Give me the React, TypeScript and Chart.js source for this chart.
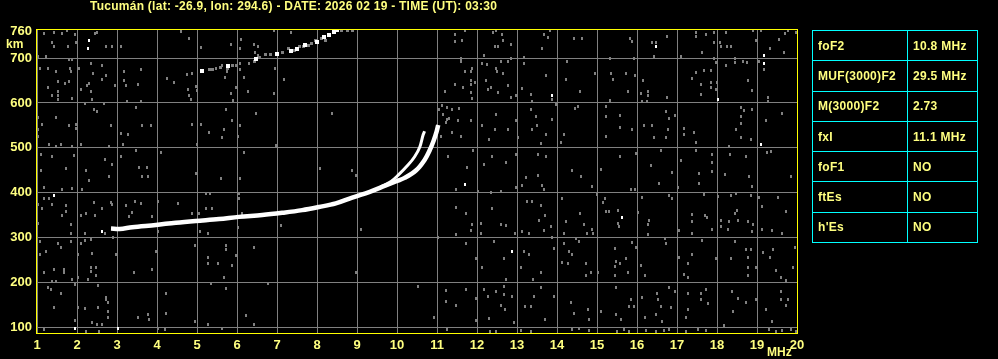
import React, { useEffect, useRef } from "react";
import { Chart, registerables } from "chart.js";

Chart.register(...registerables);

const titleText =
  "Tucumán (lat: -26.9, lon: 294.6) - DATE: 2026 02 19 - TIME (UT): 03:30";

const freqTicks = [1, 2, 3, 4, 5, 6, 7, 8, 9, 10, 11, 12, 13, 14, 15, 16, 17, 18, 19, 20];
const heightTicks = [100, 200, 300, 400, 500, 600, 700, 760];

const paramNames = ["foF2", "MUF(3000)F2", "M(3000)F2", "fxI", "foF1", "ftEs", "h'Es"];
const paramValues = ["10.8 MHz", "29.5 MHz", "2.73", "11.1 MHz", "NO", "NO", "NO"];

// main F2 trace (frequency MHz, virtual height km)
const traceMain: [number, number][] = [
  [2.85, 320], [3.07, 319], [3.38, 323], [3.97, 328], [4.47, 333], [4.97, 337],
  [5.55, 341], [6.05, 346], [6.63, 350], [7.13, 355], [7.63, 361], [8.05, 368],
  [8.47, 376], [8.88, 389], [9.32, 402], [9.69, 415], [10.0, 426], [10.19, 433],
  [10.48, 450], [10.69, 473], [10.82, 495], [10.92, 517], [10.99, 536], [11.03, 551],
];

const traceBranch: [number, number][] = [
  [9.6, 413], [9.85, 425], [10.03, 439], [10.28, 462], [10.44, 480], [10.57, 502],
  [10.65, 528], [10.69, 537],
];

const secondHopWhite: [number, number][] = [
  [5.13, 672], [5.78, 682], [6.47, 699], [7.01, 710], [7.34, 717], [7.49, 721],
  [7.7, 730], [8.01, 737], [8.18, 747], [8.3, 752], [8.43, 758], [8.51, 763],
];

const secondHopGray: [number, number][] = [
  [5.3, 675], [5.38, 675], [5.59, 679], [5.76, 676], [5.88, 684], [6.43, 693],
  [6.55, 702], [6.7, 709], [6.84, 709], [7.13, 712], [7.28, 721], [7.43, 717],
  [7.55, 727], [7.66, 727], [7.78, 728], [7.87, 733], [7.97, 739], [8.12, 743],
  [8.22, 740], [8.62, 761], [8.76, 761], [8.88, 761],
];

const noiseWhite: [number, number][] = [
  [2.3, 740], [2.28, 722], [13.88, 616], [16.48, 725], [19.18, 707], [19.18, 688],
  [18.03, 607], [19.09, 508], [1.43, 393], [2.63, 313], [1.95, 98], [3.03, 98],
  [11.7, 419], [15.63, 344], [12.88, 269],
];

const noiseGray: [number, number][] = [
  [1.18, 755], [1.43, 757], [1.63, 755], [1.76, 762], [1.95, 753], [1.37, 736], [1.43, 727],
  [1.78, 727], [2.45, 755], [2.51, 758], [2.72, 725], [2.88, 727], [3.1, 727], [1.98, 736],
  [1.03, 704], [1.23, 704], [1.8, 698], [1.88, 698], [1.08, 678], [1.28, 678], [1.48, 670],
  [1.83, 678], [1.84, 670], [2.05, 678], [2.34, 688], [2.4, 666], [2.63, 684], [2.73, 661],
  [2.63, 652], [2.95, 639], [3.18, 670], [3.18, 650], [3.23, 639], [3.59, 675], [3.53, 642],
  [4.26, 655], [4.43, 646], [1.53, 648], [1.7, 643], [1.8, 648], [1.28, 634], [1.53, 625],
  [1.38, 616], [1.53, 616], [1.53, 607], [1.88, 609], [2.09, 630], [2.26, 639], [2.3, 643],
  [2.34, 625], [2.38, 607], [3.26, 603], [3.59, 603], [2.2, 598], [2.43, 585], [2.49, 582],
  [2.68, 598], [3.48, 589], [1.03, 567], [1.13, 553], [1.48, 567], [1.8, 550], [1.98, 553],
  [1.98, 544], [2.84, 549], [3.09, 532], [3.28, 530], [3.63, 550], [3.84, 549], [1.03, 540],
  [1.03, 526], [1.3, 508], [1.48, 504], [1.59, 508], [1.88, 504], [2.09, 508], [2.8, 504],
  [3.15, 508], [1.09, 485], [1.38, 481], [1.93, 483], [2.7, 474], [2.88, 463], [3.09, 481],
  [3.48, 493], [3.55, 455], [3.62, 436], [3.76, 455], [3.78, 436], [4.09, 490], [1.09, 450],
  [1.73, 454], [2.23, 450], [2.8, 436], [2.3, 427], [4.59, 760], [4.8, 743], [5.09, 724],
  [5.84, 731], [6.09, 742], [6.08, 722], [6.43, 730], [6.53, 725], [6.45, 712], [6.53, 706],
  [5.47, 678], [5.63, 684], [5.97, 684], [6.08, 688], [5.75, 670], [5.7, 657], [6.18, 657],
  [6.3, 688], [6.08, 675], [4.98, 637], [5.01, 627], [4.78, 630], [4.8, 616], [4.84, 607],
  [4.74, 664], [4.88, 666], [5.84, 621], [5.9, 605], [5.98, 634], [6.28, 625], [6.93, 621],
  [6.95, 678], [7.18, 652], [5.73, 585], [5.88, 562], [6.08, 549], [5.68, 540], [5.63, 522],
  [6.03, 526], [4.88, 553], [5.09, 553], [5.0, 508], [5.3, 534], [6.48, 576], [8.38, 576],
  [6.18, 490], [6.98, 505], [8.08, 454], [8.88, 450], [8.98, 439], [5.59, 432], [6.07, 432],
  [7.34, 757], [6.93, 762], [4.98, 442],
  [11.45, 752], [11.45, 737], [11.63, 740], [11.7, 762], [12.4, 758], [12.48, 762], [12.63, 752],
  [12.45, 727], [12.53, 727], [12.84, 730], [12.65, 739], [12.18, 707], [11.59, 700], [11.59, 693],
  [12.13, 688], [12.24, 685], [12.48, 678], [12.49, 670], [12.65, 666], [12.59, 693], [12.78, 693],
  [12.84, 699], [11.84, 670], [11.7, 670], [11.88, 678], [11.84, 650], [11.95, 646], [11.84, 642],
  [11.45, 642], [11.2, 625], [11.65, 634], [11.88, 609], [11.84, 624], [12.23, 650], [12.28, 631],
  [12.53, 624], [12.34, 634], [12.78, 639], [12.84, 612], [12.98, 616], [13.18, 687], [13.18, 702],
  [13.13, 633], [13.34, 620], [13.38, 603], [13.62, 721], [13.68, 752], [13.78, 745], [13.83, 762],
  [13.73, 661], [13.88, 607], [13.97, 597], [14.26, 693], [14.23, 652], [14.43, 743], [14.63, 743],
  [14.58, 625], [14.94, 666], [15.33, 699], [15.34, 666], [15.4, 652], [15.73, 666], [15.78, 625],
  [15.33, 605], [15.83, 743], [15.88, 737], [15.93, 699], [15.95, 661], [16.15, 650], [16.09, 621],
  [16.27, 625], [16.28, 616], [16.25, 603], [16.13, 603], [16.75, 612], [16.47, 736], [16.38, 734],
  [16.75, 749], [16.43, 704], [17.09, 704], [17.47, 757], [17.47, 749], [17.73, 752], [17.93, 758],
  [17.93, 736], [18.07, 736], [18.09, 727], [18.26, 727], [18.34, 725], [18.23, 757], [17.63, 712],
  [17.97, 691], [17.93, 699], [18.45, 700], [18.45, 691], [18.65, 693], [18.76, 691], [17.47, 669],
  [17.38, 655], [17.68, 672], [17.84, 672], [17.84, 646], [17.84, 635], [17.59, 642], [17.59, 620],
  [18.01, 646], [17.97, 631], [18.23, 684], [18.78, 650], [18.88, 627], [19.28, 612], [19.28, 603],
  [18.9, 762], [19.09, 762], [18.98, 740], [19.32, 721], [19.18, 675], [19.05, 693], [19.55, 742],
  [19.7, 755], [19.78, 762], [19.68, 712], [19.97, 758],
  [11.13, 595], [11.37, 585], [11.55, 588], [11.26, 564], [11.22, 556], [11.84, 562], [11.53, 562],
  [11.38, 534], [11.59, 526], [11.09, 526], [12.13, 549], [12.47, 575], [12.45, 541], [12.3, 519],
  [12.78, 541], [12.98, 560], [13.03, 522], [13.34, 586], [13.48, 570], [13.38, 541], [13.51, 549],
  [13.73, 530], [13.88, 564], [13.61, 510], [14.18, 530], [14.09, 511], [14.44, 588], [14.53, 592],
  [15.23, 592], [15.23, 570], [15.58, 573], [15.58, 545], [15.88, 540], [15.23, 526], [16.18, 549],
  [16.38, 549], [16.43, 522], [16.73, 580], [16.8, 565], [16.95, 571], [16.78, 541], [16.73, 522],
  [17.18, 542], [17.18, 530], [17.43, 534], [17.47, 511], [18.59, 590], [18.68, 583], [18.59, 570],
  [18.59, 555], [18.47, 540], [18.59, 522], [18.88, 585], [19.23, 562], [19.63, 577], [18.84, 519],
  [18.3, 504], [11.15, 575], [11.25, 590], [11.3, 565], [11.05, 585],
  [11.28, 481], [11.76, 455], [11.9, 495], [12.18, 463], [12.38, 481], [12.73, 468], [12.97, 485],
  [13.22, 433], [13.53, 485], [13.73, 481], [13.53, 438], [14.38, 450], [14.59, 436], [15.09, 451],
  [15.58, 481], [15.97, 487], [16.34, 460], [16.59, 495], [16.88, 445], [17.09, 472], [17.47, 493],
  [17.55, 442], [17.87, 485], [17.88, 468], [17.88, 448], [18.32, 485], [18.73, 481], [19.24, 490],
  [19.34, 492], [18.8, 436], [19.84, 435], [18.2, 440],
  [1.18, 411], [1.63, 408], [1.88, 410], [2.13, 408], [1.3, 386], [1.38, 374], [1.18, 386],
  [1.72, 371], [1.73, 359], [1.63, 350], [1.84, 328], [1.84, 310], [1.13, 364], [1.03, 332],
  [2.43, 379], [2.63, 364], [2.22, 354], [2.45, 350], [2.09, 349], [2.88, 374], [2.84, 379],
  [3.23, 371], [3.44, 380], [3.59, 376], [3.38, 356], [3.3, 347], [3.88, 347], [4.03, 380],
  [4.53, 376], [4.88, 354], [5.05, 353], [5.23, 364], [5.38, 364], [5.23, 398], [5.33, 398],
  [6.05, 398], [6.05, 386], [6.13, 354], [2.7, 310], [2.9, 300], [2.2, 310], [4.03, 313],
  [5.08, 313], [5.28, 310], [6.03, 322], [7.09, 327], [9.09, 317], [1.08, 291], [1.53, 287],
  [1.59, 278], [1.84, 290], [2.09, 287], [2.2, 293], [2.34, 295], [1.23, 269], [1.08, 261],
  [2.03, 263], [2.38, 265], [2.98, 261], [3.98, 269], [4.95, 282], [5.28, 256], [5.28, 243],
  [5.53, 243], [5.73, 282], [5.73, 273], [5.98, 260], [5.88, 238], [6.43, 278], [1.18, 221],
  [1.43, 228], [1.68, 228], [1.68, 221], [2.34, 233], [2.48, 232], [2.34, 224], [2.47, 215],
  [2.28, 207], [2.03, 211], [1.88, 206], [1.38, 202], [1.48, 202], [3.43, 221], [3.88, 228],
  [5.68, 210], [8.98, 221], [1.95, 195], [1.28, 189], [1.34, 185], [1.59, 176], [2.53, 193],
  [2.73, 167], [2.73, 161], [2.78, 154], [4.23, 176], [5.34, 198], [5.73, 186], [6.78, 198],
  [1.43, 143], [2.03, 144], [2.2, 141], [2.53, 143], [2.78, 135], [2.78, 121], [3.78, 128],
  [3.53, 121], [3.8, 117], [4.23, 130], [4.95, 112], [5.28, 106], [6.23, 125], [6.43, 107],
  [1.95, 115], [2.38, 110], [2.51, 107], [2.55, 91], [2.63, 107], [4.03, 97], [4.2, 95],
  [5.63, 98], [1.18, 94], [2.22, 90], [1.03, 374],
  [11.48, 408], [12.03, 402], [12.34, 401], [12.59, 402], [13.13, 417], [13.63, 416], [13.68, 408],
  [12.98, 411], [14.88, 413], [15.0, 395], [15.2, 386], [15.15, 379], [15.3, 359], [15.23, 359],
  [15.53, 361], [15.53, 332], [15.55, 324], [15.84, 406], [15.95, 408], [16.03, 356], [16.13, 390],
  [16.3, 339], [16.28, 328], [16.28, 307], [16.55, 421], [16.8, 393], [16.88, 386], [17.03, 411],
  [17.05, 315], [17.38, 352], [17.38, 336], [17.38, 310], [17.55, 421], [17.68, 395], [17.7, 350],
  [17.76, 344], [17.88, 317], [18.03, 391], [18.34, 393], [18.48, 398], [18.51, 361], [18.45, 354],
  [18.53, 337], [18.3, 336], [18.09, 339], [18.09, 324], [18.28, 317], [18.78, 336], [18.84, 393],
  [18.87, 413], [18.9, 328], [19.13, 369], [19.13, 317], [19.53, 389], [19.73, 359], [19.63, 310],
  [19.38, 315], [18.88, 313], [19.05, 389], [11.47, 367], [11.73, 354], [11.88, 328], [11.84, 315],
  [11.48, 306], [12.09, 332], [12.38, 365], [12.72, 327], [12.59, 330], [12.09, 310], [12.94, 310],
  [13.26, 380], [13.38, 380], [13.59, 371], [13.7, 350], [13.55, 337], [13.3, 310], [13.13, 313],
  [13.84, 324], [13.68, 316], [14.13, 386], [14.22, 336], [14.18, 310], [14.57, 354], [14.68, 330],
  [14.88, 317], [14.75, 310], [14.9, 310],
  [11.03, 300], [11.73, 287], [12.43, 291], [13.18, 269], [13.3, 263], [13.87, 299], [13.93, 276],
  [14.18, 287], [14.48, 298], [14.55, 291], [14.3, 269], [14.37, 261], [14.12, 245], [14.28, 243],
  [14.73, 243], [14.84, 223], [14.72, 216], [15.03, 221], [11.98, 254], [12.13, 232], [12.68, 253],
  [13.09, 232], [13.59, 221], [12.73, 206], [13.41, 206], [15.45, 276], [15.47, 247], [15.57, 243],
  [15.73, 253], [15.45, 236], [15.45, 216], [15.78, 221], [15.97, 278], [15.88, 289], [16.09, 238],
  [16.2, 216], [16.7, 297], [16.73, 287], [17.05, 255], [17.18, 218], [17.28, 210], [17.38, 263],
  [17.28, 243], [17.62, 293], [17.98, 254], [18.34, 253], [18.45, 291], [18.73, 273], [18.84, 273],
  [18.78, 255], [18.78, 233], [18.78, 215], [19.15, 267], [19.33, 255], [19.4, 273], [19.48, 226],
  [19.59, 210], [19.73, 204], [19.9, 233], [19.95, 278], [18.97, 232],
  [10.53, 191], [11.22, 181], [11.23, 158], [11.47, 149], [11.73, 184], [11.98, 165], [12.18, 184],
  [12.28, 169], [12.3, 119], [12.48, 180], [12.68, 191], [12.68, 173], [12.59, 149], [12.7, 139],
  [12.88, 169], [12.93, 110], [13.2, 147], [13.34, 147], [13.43, 169], [13.59, 189], [13.7, 117],
  [13.93, 169], [14.34, 154], [14.43, 130], [14.78, 139], [14.8, 117], [15.09, 135], [15.48, 189],
  [15.47, 128], [15.59, 117], [15.84, 161], [15.8, 147], [15.93, 147], [16.13, 167], [16.2, 121],
  [16.51, 176], [16.53, 161], [16.59, 147], [16.48, 128], [16.62, 112], [16.8, 189], [16.84, 143],
  [16.95, 180], [17.28, 174], [17.28, 139], [17.23, 122], [17.59, 176], [17.59, 161], [17.73, 184],
  [17.78, 152], [18.18, 104], [18.38, 180], [18.4, 135], [18.53, 165], [18.73, 156], [18.98, 161],
  [19.22, 139], [19.59, 180], [19.59, 161], [19.78, 161], [19.73, 149], [19.38, 112], [10.93, 121],
  [11.98, 115],
  [11.26, 95], [12.32, 91], [12.47, 90], [13.09, 92], [13.34, 91], [14.38, 95], [14.55, 98],
  [14.8, 92], [15.51, 91], [15.68, 95], [15.8, 91], [16.22, 92], [16.47, 90], [16.68, 92],
  [16.8, 95], [17.22, 91], [17.53, 95], [17.72, 92], [19.3, 95], [19.47, 91], [19.63, 92],
  [19.84, 95], [19.97, 91],
];

const TEXT_YELLOW = "#FFFF80";
const FONT = "'Liberation Sans', Arial, sans-serif";

const toPts = (a: [number, number][]) => a.map(([x, y]) => ({ x, y }));

function speck(color: string, w: number, h: number): HTMLCanvasElement {
  const c = document.createElement("canvas");
  c.width = w;
  c.height = h;
  const g = c.getContext("2d");
  if (g) {
    g.fillStyle = color;
    g.fillRect(0, 0, w, h);
  }
  return c;
}

const frameBorder = {
  id: "frameBorder",
  afterDatasetsDraw(chart: any) {
    const { ctx, chartArea } = chart;
    ctx.save();
    ctx.strokeStyle = "#FFFF00";
    ctx.lineWidth = 1;
    ctx.strokeRect(
      chartArea.left - 0.5,
      chartArea.top + 0.5,
      chartArea.right - chartArea.left + 1,
      chartArea.bottom - chartArea.top
    );
    ctx.restore();
  },
};

export default function App() {
  const ref = useRef<HTMLCanvasElement | null>(null);

  useEffect(() => {
    document.body.style.margin = "0";
    document.body.style.background = "#000";
    if (!ref.current) return;
    const imgPt = (img: HTMLCanvasElement) => ({
      pointStyle: img as any,
      pointRadius: 2,
      borderWidth: 0,
      showLine: false,
    });
    const chart = new Chart(ref.current, {
      type: "scatter",
      data: {
        datasets: [
          {
            data: toPts(traceBranch),
            showLine: true,
            borderColor: "#FFFFFF",
            borderWidth: 3,
            pointRadius: 0,
            tension: 0.35,
          },
          {
            data: toPts(traceMain),
            showLine: true,
            borderColor: "#FFFFFF",
            borderWidth: 4.5,
            pointRadius: 0,
            tension: 0.35,
          },
          { data: toPts(secondHopWhite), ...imgPt(speck("#FFFFFF", 4, 4)) },
          { data: toPts(secondHopGray), ...imgPt(speck("#808080", 3, 3)) },
          { data: toPts(noiseWhite), ...imgPt(speck("#FFFFFF", 2, 3)) },
          { data: toPts(noiseGray), ...imgPt(speck("#808080", 2, 3)) },
        ],
      },
      options: {
        animation: false,
        responsive: false,
        events: [],
        plugins: { legend: { display: false }, tooltip: { enabled: false }, title: { display: false } },
        layout: { padding: { left: 0, right: 201, top: 29, bottom: 0 } },
        scales: {
          x: {
            type: "linear",
            min: 1,
            max: 20,
            afterFit: (s: any) => {
              s.height = 26;
            },
            afterBuildTicks: (s: any) => {
              s.ticks = freqTicks.map((v) => ({ value: v }));
            },
            grid: { color: "#808080", lineWidth: 1, drawTicks: false },
            border: { display: false },
            ticks: {
              color: TEXT_YELLOW,
              font: { family: FONT, weight: "bold", size: 13 },
              padding: 5,
              autoSkip: false,
              maxRotation: 0,
            },
          },
          y: {
            type: "linear",
            min: 87,
            max: 765,
            afterFit: (s: any) => {
              s.width = 37;
            },
            afterBuildTicks: (s: any) => {
              s.ticks = heightTicks.map((v) => ({ value: v }));
            },
            grid: {
              color: (c: any) => (c.tick && c.tick.value === 760 ? "rgba(0,0,0,0)" : "#808080"),
              lineWidth: 1,
              drawTicks: false,
            },
            border: { display: false },
            ticks: {
              color: TEXT_YELLOW,
              font: { family: FONT, weight: "bold", size: 13 },
              padding: 5,
              autoSkip: false,
            },
          },
        },
      },
      plugins: [frameBorder],
    });
    return () => chart.destroy();
  }, []);

  const cell: React.CSSProperties = {
    border: "1px solid #00FFFF",
    height: 29.3,
    padding: "0 0 0 5px",
    color: TEXT_YELLOW,
    fontFamily: FONT,
    fontWeight: "bold",
    fontSize: 12,
    letterSpacing: "0.3px",
    verticalAlign: "middle",
    whiteSpace: "nowrap",
  };

  return (
    <div style={{ position: "relative", width: 998, height: 359, background: "#000", overflow: "hidden" }}>
      <canvas ref={ref} width={998} height={359} style={{ position: "absolute", left: 0, top: 0 }} />
      <div
        style={{
          position: "absolute",
          left: 90,
          top: 0,
          color: TEXT_YELLOW,
          fontFamily: FONT,
          fontWeight: "bold",
          fontSize: 12,
          lineHeight: "13px",
          letterSpacing: "0.26px",
          whiteSpace: "nowrap",
        }}
      >
        {titleText}
      </div>
      <div
        style={{
          position: "absolute",
          left: 6,
          top: 37,
          color: TEXT_YELLOW,
          fontFamily: FONT,
          fontWeight: "bold",
          fontSize: 12,
          lineHeight: "14px",
        }}
      >
        km
      </div>
      <div
        style={{
          position: "absolute",
          left: 767,
          top: 345,
          color: TEXT_YELLOW,
          fontFamily: FONT,
          fontWeight: "bold",
          fontSize: 12,
          lineHeight: "14px",
        }}
      >
        MHz
      </div>
      <table
        style={{
          position: "absolute",
          left: 812,
          top: 30,
          borderCollapse: "collapse",
          tableLayout: "fixed",
          width: 166,
        }}
      >
        <tbody>
          {paramNames.map((n, i) => (
            <tr key={n}>
              <td style={{ ...cell, width: 89 }}>{n}</td>
              <td style={{ ...cell }}>{paramValues[i]}</td>
            </tr>
          ))}
        </tbody>
      </table>
    </div>
  );
}
